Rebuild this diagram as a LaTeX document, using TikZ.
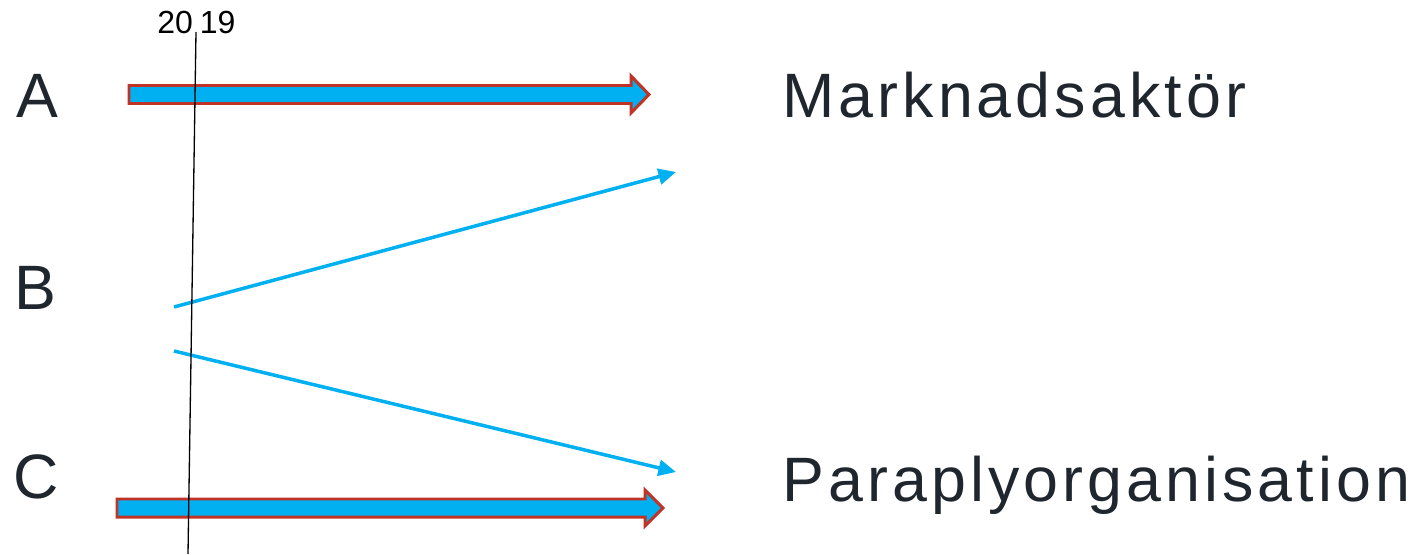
\documentclass[tikz,border=0pt]{standalone}
\usepackage{fontspec}
\setmainfont{Liberation Sans}
\newfontfamily\spacedfont[LetterSpace=6.5]{Liberation Sans}
\usepackage{xcolor}
\usetikzlibrary{arrows.meta,positioning}

\definecolor{arrowcyan}{RGB}{0,176,240}
\definecolor{arrowrim}{RGB}{192,52,40}
\definecolor{textdark}{RGB}{31,38,46}

\begin{document}
\begin{tikzpicture}[
    x=0.02cm, y=-0.02cm,
    >=Stealth,
    rowlbl/.style={font=\fontsize{35.7}{40}\selectfont, text=textdark, anchor=base west, inner sep=0pt},
    targetlbl/.style={font=\fontsize{35.7}{40}\selectfont\spacedfont, text=textdark, anchor=base west, inner sep=0pt},
    yearlbl/.style={font=\fontsize{18.2}{20}\selectfont, anchor=base west, inner sep=0pt},
    blockarrow/.style={draw=arrowrim, fill=arrowcyan, line width=1.7pt, line join=miter},
    moveline/.style={draw=arrowcyan, line width=2pt, -{Triangle[length=10pt, width=9pt]}},
    yearline/.style={draw=black, line width=0.75pt},
]
\useasboundingbox (0,0) rectangle (1412,554);

% ========== Row labels ==========
\node[rowlbl] (rowA) at (16,117) {A};
\node[rowlbl] (rowB) at (14,309) {B};
\node[rowlbl] (rowC) at (13,498) {C};

% ========== Targets ==========
\node[targetlbl] (market) at (782,117) {Marknadsaktör};
\node[targetlbl] (umbrella) at (782,501) {Paraplyorganisation};

% ========== Block arrows for A and C ==========
% A: tail 129, head from 631, tip 649
\draw[blockarrow] (129,85.5) -- (631,85.5) -- (631,76) -- (649,94.5)
    -- (631,113) -- (631,103.5) -- (129,103.5) -- cycle;
% C: tail 117, head from 645, tip 663
\draw[blockarrow] (117,499) -- (645,499) -- (645,490) -- (663,508)
    -- (645,526) -- (645,517) -- (117,517) -- cycle;

% ========== B splits in two ==========
\coordinate (bTop) at (174,307);
\coordinate (bLow) at (174,351);
\coordinate (tipMarket) at (676,172);
\coordinate (tipUmbrella) at (676,472);
\draw[moveline] (bTop) -- (tipMarket);
\draw[moveline] (bLow) -- (tipUmbrella);

% ========== Year marker ==========
\node[yearlbl] (year) at (157,34) {20\kern4pt 19};
\coordinate (yearTop) at (196,32);
\coordinate (yearEnd) at (188,554);
\draw[yearline] (yearTop) -- (yearEnd);

\end{tikzpicture}
\end{document}
